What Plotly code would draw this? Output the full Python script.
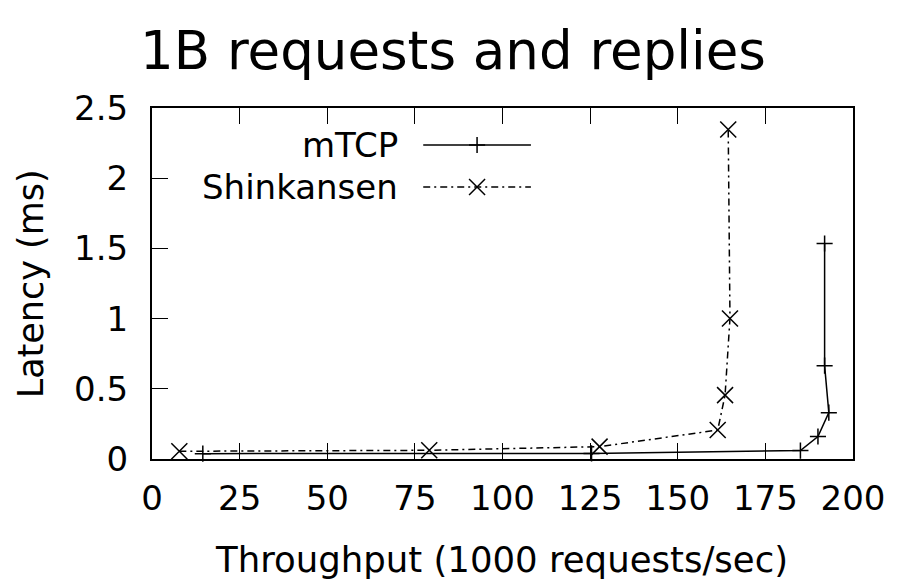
import plotly.graph_objects as go

# ---- data ----
mtcp_x = [14.5, 125.4, 185.0, 190.0, 193.1, 191.9, 191.9]
mtcp_y = [0.038, 0.040, 0.060, 0.160, 0.330, 0.665, 1.535]

shink_x = [7.8, 79.1, 127.7, 161.4, 163.5, 164.9, 164.4]
shink_y = [0.055, 0.062, 0.088, 0.206, 0.455, 1.001, 2.347]

x_ticks = [0, 25, 50, 75, 100, 125, 150, 175, 200]
y_ticks = [0, 0.5, 1, 1.5, 2, 2.5]
y_tick_text = ["0", "0.5", "1", "1.5", "2", "2.5"]

series_names = ["mTCP", "Shinkansen"]

FONT = "DejaVu Sans"
W, H = 897, 579
ML, MR, MT, MB = 152, 42, 108, 120
DASH = "7px,4px,2px,4px"

fig = go.Figure()

fig.add_trace(go.Scatter(
    x=mtcp_x, y=mtcp_y, mode="lines+markers", name=series_names[0],
    line=dict(color="black", width=1.5),
    marker=dict(symbol="cross-thin-open", size=11.5, color="black",
                line=dict(color="black", width=1.5)),
    showlegend=False, cliponaxis=False))

fig.add_trace(go.Scatter(
    x=shink_x, y=shink_y, mode="lines+markers", name=series_names[1],
    line=dict(color="black", width=1.5, dash=DASH),
    marker=dict(symbol="x-thin-open", size=16, color="black",
                line=dict(color="black", width=1.5)),
    showlegend=False, cliponaxis=False))

# ---- manual legend (text left of sample, as in the reference) ----
pw = W - ML - MR
ph = H - MT - MB
def px_x(p):
    return (p - ML) / pw
def px_y(p):
    return (H - MB - p) / ph

leg_x0, leg_x1, leg_xm = px_x(424), px_x(532), px_x(478)
leg_rows = [px_y(145), px_y(187)]
leg_styles = [
    (dict(color="black", width=1.5), "cross-thin-open", 11.5),
    (dict(color="black", width=1.5, dash=DASH), "x-thin-open", 16),
]
for name, yy, (ln, sym, sz) in zip(series_names, leg_rows, leg_styles):
    fig.add_trace(go.Scatter(
        x=[leg_x0, leg_x1], y=[yy, yy], mode="lines", line=ln,
        xaxis="x2", yaxis="y2", showlegend=False, hoverinfo="skip"))
    fig.add_trace(go.Scatter(
        x=[leg_xm], y=[yy], mode="markers",
        marker=dict(symbol=sym, size=sz, color="black",
                    line=dict(color="black", width=1.5)),
        xaxis="x2", yaxis="y2", showlegend=False, hoverinfo="skip"))
    fig.add_annotation(x=px_x(401), y=yy, xref="x2", yref="y2", text=name,
                       showarrow=False, xanchor="right", yanchor="middle",
                       font=dict(family=FONT, size=34, color="black"))

fig.update_layout(
    width=W, height=H,
    margin=dict(l=ML, r=MR, t=MT, b=MB),
    paper_bgcolor="white", plot_bgcolor="white",
    font=dict(family=FONT, size=34, color="black"),
    showlegend=False,
    xaxis=dict(range=[0, 200], tickvals=x_ticks, ticks="inside", ticklen=16,
               tickwidth=1.2, tickcolor="black", showgrid=False, zeroline=False,
               showline=True, linecolor="black", linewidth=2, mirror="ticks",
               tickfont=dict(family=FONT, size=34), ticklabelstandoff=8),
    yaxis=dict(range=[0, 2.5], tickvals=y_ticks, ticktext=y_tick_text,
               ticks="inside", ticklen=16, tickwidth=1.2, tickcolor="black",
               showgrid=False, zeroline=False, showline=True, linecolor="black",
               linewidth=2, mirror=True,
               tickfont=dict(family=FONT, size=34), ticklabelstandoff=15),
    xaxis2=dict(overlaying="x", range=[0, 1], visible=False),
    yaxis2=dict(overlaying="y", range=[0, 1], visible=False),
    annotations=list(fig.layout.annotations) + [
        dict(text="1B requests and replies", xref="paper", yref="paper",
             x=px_x(454), y=px_y(51), showarrow=False, xanchor="center",
             yanchor="middle", font=dict(family=FONT, size=53, color="black")),
        dict(text="Throughput (1000 requests/sec)", xref="paper", yref="paper",
             x=px_x(502), y=px_y(559), showarrow=False, xanchor="center",
             yanchor="middle", font=dict(family=FONT, size=35.5, color="black")),
        dict(text="Latency (ms)", xref="paper", yref="paper",
             x=px_x(31), y=px_y(284), showarrow=False, xanchor="center",
             yanchor="middle", textangle=-90,
             font=dict(family=FONT, size=35, color="black")),
    ],
)

fig.write_html("out.html", config={"displayModeBar": False},
               post_script="document.body.style.margin='0';document.body.style.overflow='hidden';")
